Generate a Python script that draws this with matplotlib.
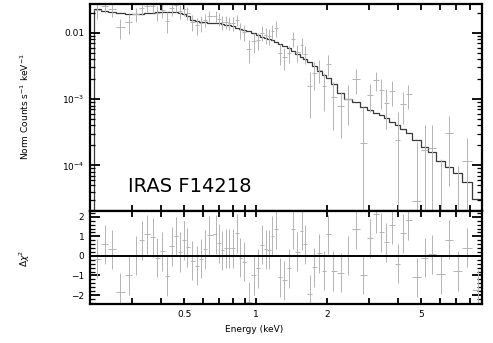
import numpy as np
import matplotlib
matplotlib.use("Agg")
import matplotlib.pyplot as plt
from matplotlib.ticker import FixedLocator, NullFormatter, FixedFormatter

# ---- data ----
energy = [0.215, 0.231, 0.247, 0.268, 0.292, 0.312, 0.330, 0.347, 0.367, 0.385,
          0.404, 0.421, 0.442, 0.461, 0.480, 0.497, 0.515, 0.539, 0.565, 0.588,
          0.611, 0.638, 0.678, 0.700, 0.723, 0.747, 0.774, 0.802, 0.832, 0.862,
          0.894, 0.934, 0.984, 1.023, 1.067, 1.102, 1.138, 1.176, 1.214, 1.262,
          1.316, 1.382, 1.437, 1.500, 1.564, 1.614, 1.690, 1.763, 1.850, 1.942,
          2.019, 2.127, 2.284, 2.438, 2.642, 2.846, 3.027, 3.230, 3.367, 3.558,
          3.738, 3.962, 4.198, 4.406, 4.766, 5.176, 5.527, 6.035, 6.546, 7.101,
          7.770, 8.616]

model = [0.0229, 0.0217, 0.0209, 0.0199, 0.0192, 0.0192, 0.0195, 0.0199, 0.0202, 0.0206,
         0.0208, 0.0208, 0.0208, 0.0208, 0.0202, 0.0192, 0.0179, 0.0158, 0.0150, 0.0147,
         0.0145, 0.0143, 0.0140, 0.0139, 0.0135, 0.0133, 0.0129, 0.0126, 0.0120, 0.0114,
         0.0110, 0.0106, 0.00990, 0.00923, 0.00861, 0.00832, 0.00817, 0.00775, 0.00736, 0.00686,
         0.00629, 0.00586, 0.00528, 0.00475, 0.00428, 0.00400, 0.00360, 0.00313, 0.00263, 0.00229,
         0.00206, 0.00167, 0.00122, 0.00101, 0.00089, 0.00075, 0.000674, 0.000607, 0.000566, 0.000510,
         0.000459, 0.000400, 0.000348, 0.000313, 0.000245, 0.000192, 0.000161, 0.000118, 0.0000955, 0.0000775,
         0.0000566, 0.0000313]

counts = [0.0220, 0.0250, 0.0227, 0.0122, 0.0144, 0.0192, 0.0234, 0.0254, 0.0250, 0.0201,
          0.0221, 0.0153, 0.0234, 0.0260, 0.0212, 0.0230, 0.0199, 0.0148, 0.0131, 0.0141,
          0.0158, 0.0181, 0.0179, 0.0162, 0.0145, 0.0146, 0.0142, 0.0139, 0.0155, 0.0111,
          0.0102, 0.0056, 0.0074, 0.00778, 0.01008, 0.00919, 0.00893, 0.01054, 0.0117, 0.0050,
          0.00434, 0.00494, 0.00819, 0.00506, 0.00651, 0.00484, 0.00156, 0.00249, 0.00278, 0.00159,
          0.00344, 0.00109, 0.000775, 0.00101, 0.00204, 0.000216, 0.00116, 0.00192, 0.00135, 0.00088,
          0.00132, 0.00024, 0.00085, 0.00118, 0.000029, 0.000171, 0.000182, 0.00002, 0.000306, 0.00001,
          0.000118, 0.000002]

counts_err = [0.0057, 0.0054, 0.0052, 0.0041, 0.0048, 0.0048, 0.0049, 0.0050, 0.0050, 0.0051,
              0.0052, 0.0052, 0.0052, 0.0052, 0.0050, 0.0048, 0.0045, 0.0040, 0.0038, 0.0037,
              0.0036, 0.0036, 0.0035, 0.0035, 0.0034, 0.0033, 0.0032, 0.0032, 0.0030, 0.0029,
              0.0028, 0.0021, 0.0025, 0.0023, 0.00258, 0.0025, 0.00245, 0.00271, 0.0032, 0.0017,
              0.00157, 0.00147, 0.00211, 0.00143, 0.00171, 0.0014, 0.00104, 0.0011, 0.00105, 0.00092,
              0.00124, 0.00075, 0.00052, 0.0006, 0.00084, 0.00055, 0.00053, 0.00061, 0.00064, 0.00053,
              0.00054, 0.0004, 0.00043, 0.00048, 0.0002, 0.00023, 0.00023, 0.000105, 0.000257, 0.000088,
              0.000143, 0.000017]

resid = [-0.15, 0.6, 0.35, -1.87, -1.0, 0.0, 0.8, 1.1, 0.95, -0.1,
         0.25, -1.05, 0.5, 1.0, 0.2, 0.8, 0.45, -0.25, -0.5, -0.15,
         0.35, 1.05, 1.1, 0.65, 0.3, 0.4, 0.4, 0.4, 1.15, -0.1,
         -0.3, -2.35, -1.0, -0.63, 0.57, 0.35, 0.31, 1.03, 1.38, -1.1,
         -1.24, -0.63, 1.38, 0.22, 1.3, 0.6, -1.97, -0.58, 0.14, -0.76,
         1.12, -0.77, -0.86, 0.0, 1.38, -0.96, 0.91, 2.16, 1.22, 0.7,
         1.6, -0.4, 1.17, 1.82, -1.08, -0.09, 0.09, -0.94, 0.82, -0.77,
         0.43, -1.72]

x_tick_labels = {0.5: "0.5", 1: "1", 2: "2", 5: "5"}

# ---- derived geometry ----
E = np.array(energy)
mids = np.sqrt(E[:-1] * E[1:])
edges = np.concatenate([[E[0] ** 2 / mids[0]], mids, [E[-1] ** 2 / mids[-1]]])
xlo = E - edges[:-1]
xhi = edges[1:] - E

W, H = 493, 343
fig = plt.figure(figsize=(W / 100, H / 100), dpi=100)
L, R = 90 / W, 482 / W
ax1 = fig.add_axes([L, 1 - 211 / H, R - L, 207 / H])
ax2 = fig.add_axes([L, 1 - 304 / H, R - L, 93 / H], sharex=ax1)

dcol = "#b4b4b4"
ax1.errorbar(E, counts, yerr=counts_err, xerr=[xlo, xhi], fmt="none",
             ecolor=dcol, elinewidth=0.7, capsize=0)
ax1.stairs(model, edges, color="#383838", lw=0.9)
ax1.set_xscale("log")
ax1.set_yscale("log")
ax1.set_xlim(0.2, 9.0)
ax1.set_ylim(2.05e-5, 0.0272)

ax2.errorbar(E, resid, yerr=1.0, xerr=[xlo, xhi], fmt="none",
             ecolor=dcol, elinewidth=0.7, capsize=0)
ax2.axhline(0, color="black", lw=1.4)
ax2.set_ylim(-2.46, 2.3)

xt = [0.3, 0.4, 0.5, 0.6, 0.7, 0.8, 0.9, 1, 2, 3, 4, 5, 6, 7, 8]
for ax in (ax1, ax2):
    for s in ax.spines.values():
        s.set_linewidth(1.6)
    ax.xaxis.set_major_locator(FixedLocator(xt))
    ax.xaxis.set_minor_locator(FixedLocator([]))
    ax.tick_params(which="both", direction="in", top=True, right=True,
                   labelsize=6.5, colors="black", pad=4)
    ax.tick_params(axis="x", which="major", length=4, width=1.3)
    ax.tick_params(axis="y", which="major", length=7, width=1.3)
    ax.tick_params(axis="y", which="minor", length=3.5, width=0.9)
    ax.set_facecolor("white")

ax2.xaxis.set_major_formatter(FixedFormatter([x_tick_labels.get(v, "") for v in xt]))
plt.setp(ax1.get_xticklabels(), visible=False)

ax1.yaxis.set_major_locator(FixedLocator([1e-4, 1e-3, 1e-2]))
ax1.yaxis.set_major_formatter(FixedFormatter(["$10^{-4}$", "$10^{-3}$", "0.01"]))
minors = [m * 10.0 ** k for k in (-5, -4, -3, -2) for m in range(2, 10)]
ax1.yaxis.set_minor_locator(FixedLocator(minors))
ax1.yaxis.set_minor_formatter(NullFormatter())

ax2.yaxis.set_major_locator(FixedLocator([-2, -1, 0, 1, 2]))
ax2.yaxis.set_minor_locator(FixedLocator(list(np.arange(-2.4, 2.31, 0.2))))
ax2.yaxis.set_major_formatter(FixedFormatter(["\u22122", "\u22121", "0", "1", "2"]))

fig.text(25 / W, 1 - 107 / H, "Norm Counts s$^{-1}$ keV$^{-1}$", rotation=90,
         ha="center", va="center", fontsize=6.5)
fig.text(25 / W, 1 - 258 / H, "$\\Delta\\chi^2$", rotation=90,
         ha="center", va="center", fontsize=6.5)
fig.text(254 / W, 1 - 329 / H, "Energy (keV)", ha="center", va="center", fontsize=6.5)

ax1.text(128 / W, 1 - 187 / H, "IRAS F14218", transform=fig.transFigure,
         ha="left", va="center", fontsize=14, color="black")

fig.savefig("out.png", dpi=100, facecolor="white")
